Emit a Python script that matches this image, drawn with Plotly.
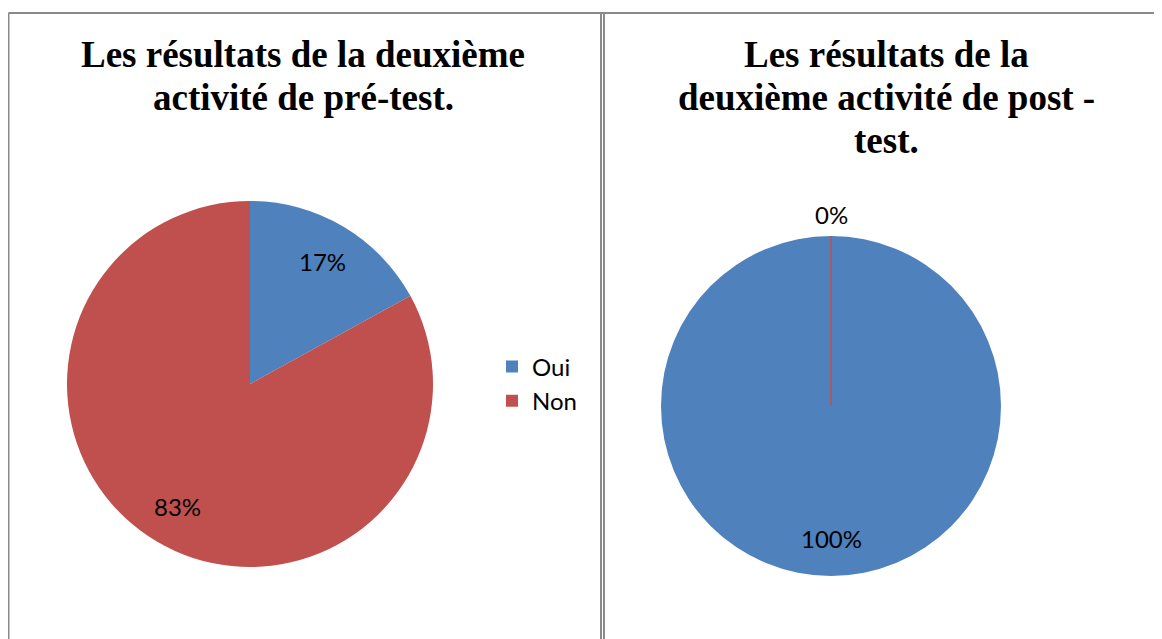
import math
import plotly.graph_objects as go

W, H = 1162, 639
OFF = 8  # page body margin: figure drawn 8px right/down of the window origin

labels = ["Oui", "Non"]
pre_values = [17, 83]
post_values = [100, 0]
colors = ["#4F81BD", "#C0504D"]

title_pre_lines = ["Les résultats de la deuxième", "activité de pré-test."]
title_post_lines = ["Les résultats de la", "deuxième activité de post -", "test."]


def X(px):
    return (px - OFF) / W


def Y(py):
    return 1 - (py - OFF) / H


# pie geometry (screen px): center and radius
PIE1 = dict(cx=250, cy=384, r=183)
PIE2 = dict(cx=831, cy=406, r=170)


def dom(p):
    return dict(x=[X(p["cx"] - p["r"]), X(p["cx"] + p["r"])],
                y=[Y(p["cy"] + p["r"]), Y(p["cy"] - p["r"])])


fig = go.Figure()
for vals, geo, leg in [(pre_values, PIE1, "legend"), (post_values, PIE2, "legend2")]:
    fig.add_trace(go.Pie(
        labels=labels, values=vals,
        sort=False, direction="clockwise", rotation=0,
        marker=dict(colors=colors, line=dict(width=0)),
        textinfo="none",
        domain=dom(geo),
        legend=leg, showlegend=True, hoverinfo="label+percent",
    ))

label_font = dict(family="Lato", size=24, color="#000000")
annotations = []
shapes = []


def add_slice_labels(vals, geo):
    total = sum(vals)
    cum = 0
    for v, c in zip(vals, colors):
        start = cum / total * 2 * math.pi
        mid = (cum + v / 2) / total * 2 * math.pi
        pct = f"{round(v / total * 100)}%"
        if v > 0:
            rr = 0.78 * geo["r"]
        else:
            rr = geo["r"] + 22
            # zero-width slice drawn as a radial line at its angle
            ex = geo["cx"] + geo["r"] * math.sin(start)
            ey = geo["cy"] - geo["r"] * math.cos(start)
            shapes.append(dict(type="line", xref="paper", yref="paper",
                               x0=X(geo["cx"]), y0=Y(geo["cy"]), x1=X(ex), y1=Y(ey),
                               line=dict(color=c, width=1.5)))
        tx = geo["cx"] + rr * math.sin(mid)
        ty = geo["cy"] - rr * math.cos(mid)
        annotations.append(dict(text=pct, xref="paper", yref="paper", x=X(tx), y=Y(ty),
                                xanchor="center", yanchor="middle", showarrow=False,
                                font=label_font))
        cum += v


add_slice_labels(pre_values, PIE1)
add_slice_labels(post_values, PIE2)

title_font = dict(family="Liberation Serif", size=37, color="#000000", weight="bold")
for lines, cx in [(title_pre_lines, 303), (title_post_lines, 886)]:
    for i, line in enumerate(lines):
        annotations.append(dict(text=line, xref="paper", yref="paper", x=X(cx), y=Y(54 + 43 * i),
                                xanchor="center", yanchor="middle", showarrow=False,
                                font=title_font))

border = dict(color="#8a8a8a", width=2)
top = Y(13)
shapes += [
    dict(type="line", xref="paper", yref="paper", x0=X(8.5), x1=1, y0=top, y1=top, line=border),
    dict(type="line", xref="paper", yref="paper", x0=X(8.5), x1=X(8.5), y0=0, y1=top, line=border),
    dict(type="line", xref="paper", yref="paper", x0=X(601), x1=X(601), y0=0, y1=top, line=border),
    dict(type="line", xref="paper", yref="paper", x0=X(604), x1=X(604), y0=0, y1=top, line=border),
]

legend_font = dict(family="Lato", size=24, color="#000000")
fig.update_layout(
    width=W, height=H,
    margin=dict(l=0, r=0, t=0, b=0),
    paper_bgcolor="white", plot_bgcolor="white",
    shapes=shapes, annotations=annotations,
    legend=dict(x=X(492), y=Y(384), xanchor="left", yanchor="middle",
                font=legend_font, bgcolor="rgba(0,0,0,0)", itemclick=False),
    legend2=dict(x=X(1058), y=Y(405), xanchor="left", yanchor="middle",
                 font=legend_font, bgcolor="rgba(0,0,0,0)", itemclick=False),
)

fig.write_html("out.html")
